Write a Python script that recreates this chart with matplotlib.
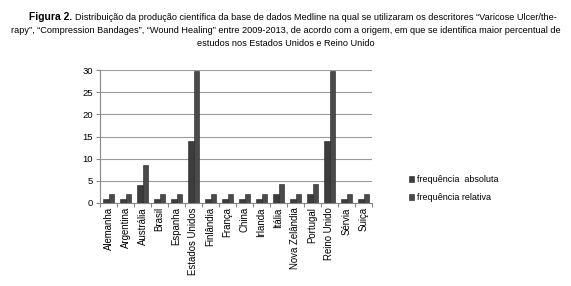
import numpy as np
import matplotlib.pyplot as plt

paises = ['Alemanha', 'Argentina', 'Austrália', 'Brasil', 'Espanha', 'Estados Unidos',
          'Finlândia', 'França', 'China', 'Irlanda', 'Itália', 'Nova Zelândia',
          'Portugal', 'Reino Unido', 'Sérvia', 'Suiça']
freq_abs = [1, 1, 4, 1, 1, 14, 1, 1, 1, 1, 2, 1, 2, 14, 1, 1]
freq_rel = [2.1, 2.1, 8.5, 2.1, 2.1, 29.8, 2.1, 2.1, 2.1, 2.1, 4.3, 2.1, 4.3, 29.8, 2.1, 2.1]

W, H = 571, 286
fig = plt.figure(figsize=(W / 100, H / 100), dpi=100)
fam = ['Liberation Sans', 'DejaVu Sans']

# title, three centred lines, first with a bold lead
renderer = fig.canvas.get_renderer()
lead = fig.text(0, 0, 'Figura 2. ', fontsize=7.4, fontweight='bold', family=fam)
rest = fig.text(0, 0, 'Distribuição da produção científica da base de dados Medline na qual se '
                'utilizaram os descritores “Varicose Ulcer/the-', fontsize=6.6, family=fam)
w1 = lead.get_window_extent(renderer).width
x0 = 29 / W
y1 = 1 - 17 / H
lead.set_position((x0, y1))
lead.set_va('center')
rest.set_position((x0 + w1 / W, y1))
rest.set_va('center')
fig.text(0.5, 1 - 31 / H, 'rapy”, “Compression Bandages”, “Wound Healing” entre 2009-2013, de acordo '
         'com a origem, em que se identifica maior percentual de', fontsize=6.6, family=fam,
         ha='center', va='center')
fig.text(0.5, 1 - 44 / H, 'estudos nos Estados Unidos e Reino Unido', fontsize=6.6, family=fam,
         ha='center', va='center')

ax = fig.add_axes([100 / W, 1 - 203 / H, 272 / W, 133 / H])
x = np.arange(len(paises))
bw = 0.32
ax.bar(x - bw / 2 + 0.02, freq_abs, bw, color='#3c3c3c', edgecolor='#222222', linewidth=0.4,
       label='frequência  absoluta', zorder=3)
ax.bar(x + bw / 2 + 0.02, freq_rel, bw, color='#4a4a4a', edgecolor='#222222', linewidth=0.4,
       label='frequência relativa', zorder=3)

ax.set_xlim(-0.5, len(paises) - 0.5)
ax.set_ylim(0, 30)
ax.set_yticks(range(0, 31, 5))
ax.yaxis.grid(True, color='#9a9a9a', linewidth=0.8)
ax.set_axisbelow(True)
for s in ['top', 'right']:
    ax.spines[s].set_visible(False)
ax.spines['left'].set_color('#888888')
ax.spines['bottom'].set_color('#888888')
ax.set_xticks(np.arange(len(paises) + 1) - 0.5, minor=False)
ax.set_xticklabels([])
ax.set_xticks(x, minor=True)
ax.set_xticklabels(paises, minor=True, rotation=90, fontsize=6.9, family=fam)
ax.tick_params(axis='x', which='minor', length=0, pad=3)
ax.tick_params(axis='x', which='major', length=3, color='#888888')
ax.tick_params(axis='y', length=3, labelsize=6.8, color='#888888', pad=2)
for t in ax.get_yticklabels():
    t.set_family(fam)

ax.legend(loc='center left', bbox_to_anchor=(1.105, 0.11), frameon=False,
          prop={'family': fam, 'size': 6.5}, handlelength=0.6, handleheight=0.6,
          handletextpad=0.3, labelspacing=1.0)

fig.savefig('out.png', dpi=100)
